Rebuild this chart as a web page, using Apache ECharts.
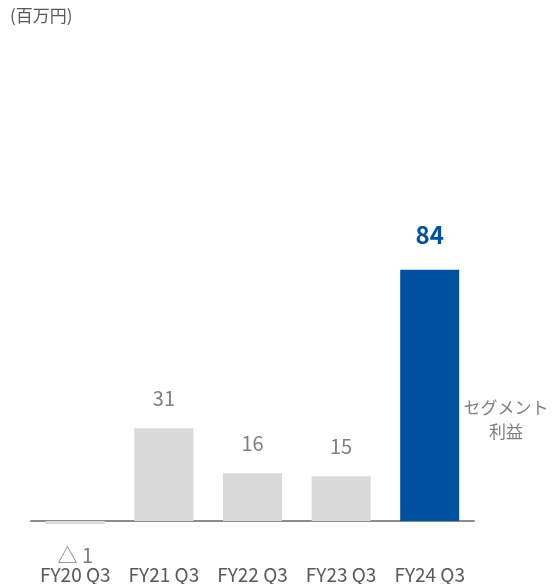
<!DOCTYPE html>
<html><head><meta charset="utf-8">
<script src="https://cdn.jsdelivr.net/npm/echarts@6/dist/echarts.min.js"></script>
<style>html,body{margin:0;padding:0;background:#fff}#c{width:553px;height:584px}</style>
</head><body><div id="c"></div>
<script>
var categories = ['FY20 Q3', 'FY21 Q3', 'FY22 Q3', 'FY23 Q3', 'FY24 Q3'];
var values = [-1, 31, 16, 15, 84];
var valueLabels = ['△ 1', '31', '16', '15', '84'];
var unitText = '(百万円)';
var seriesName = 'セグメント\n利益';

var FONT = '"Noto Sans CJK JP", "Noto Sans", sans-serif';
var chart = echarts.init(document.getElementById('c'));
var data = values.map(function (v, i) {
  var last = i === values.length - 1;
  return {
    value: v,
    itemStyle: { color: last ? '#0050A0' : '#D9D9D9' },
    label: {
      show: true,
      position: v < 0 ? 'bottom' : 'top',
      distance: v < 0 ? 21 : (last ? 23 : 20),
      formatter: valueLabels[i],
      fontFamily: FONT,
      fontSize: last ? 24 : 20,
      fontWeight: last ? 'bold' : 'normal',
      color: last ? '#0050A0' : '#7F7F7F'
    }
  };
});
chart.setOption({
  animation: false,
  grid: { left: 31, right: 79, top: 222, bottom: 33, outerBoundsMode: 'none', containLabel: false },
  xAxis: {
    type: 'category',
    data: categories,
    axisLine: { onZero: true, lineStyle: { color: '#8C8C8C', width: 2 } },
    axisTick: { show: false },
    axisLabel: { interval: 0, margin: 15, lineHeight: 18, fontFamily: FONT, fontSize: 19, color: '#595959', hideOverlap: false }
  },
  yAxis: {
    type: 'value', min: -10, max: 100,
    show: false, splitLine: { show: false }
  },
  series: [{
    type: 'bar', name: seriesName, data: data, barWidth: 59
  }],
  graphic: [
    { type: 'text', left: 10, top: 7, style: { text: unitText, font: '17px ' + FONT, fill: '#595959' } },
    { type: 'text', x: 506, y: 420, style: { text: seriesName, font: '17px ' + FONT, fill: '#7F7F7F', align: 'center', verticalAlign: 'middle', lineHeight: 24 } }
  ]
});
</script></body></html>
